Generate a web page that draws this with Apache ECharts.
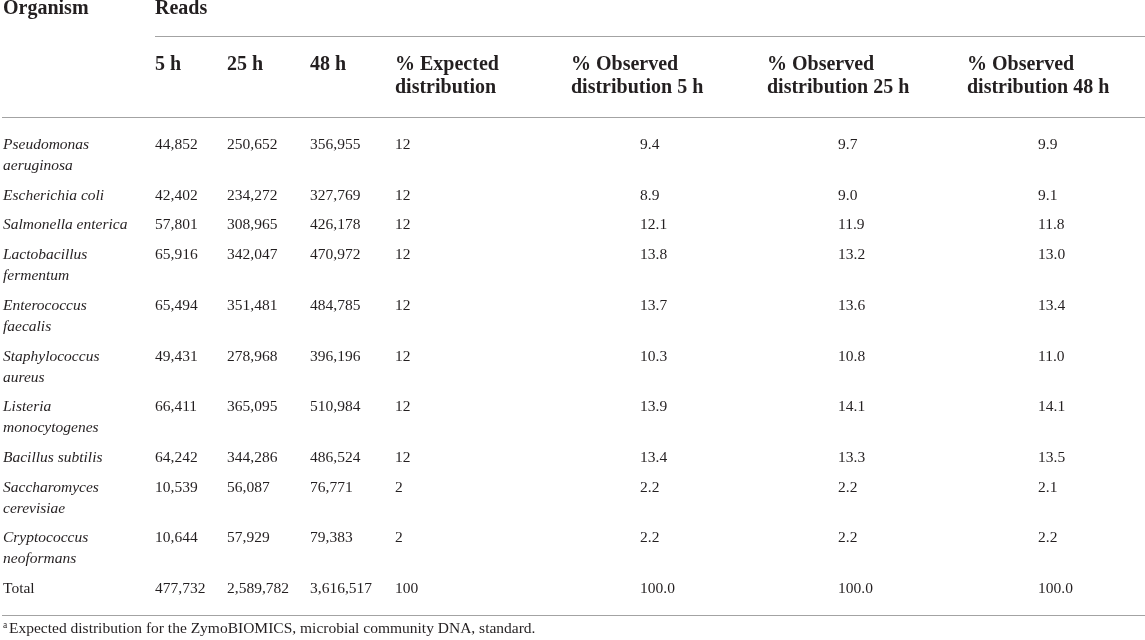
<!DOCTYPE html>
<html>
<head>
<meta charset="utf-8">
<script src="https://cdn.jsdelivr.net/npm/echarts@6/dist/echarts.min.js"></script>
<style>
  html, body { margin: 0; padding: 0; background: #fff; }
  #chart { width: 1145px; height: 640px; }
</style>
</head>
<body>
<div id="chart"></div>
<script>
// table values
const organisms = [
  'Pseudomonas\naeruginosa', 'Escherichia coli', 'Salmonella enterica',
  'Lactobacillus\nfermentum', 'Enterococcus\nfaecalis', 'Staphylococcus\naureus',
  'Listeria\nmonocytogenes', 'Bacillus subtilis', 'Saccharomyces\ncerevisiae',
  'Cryptococcus\nneoformans'
];
const reads5h = [44852, 42402, 57801, 65916, 65494, 49431, 66411, 64242, 10539, 10644];
const reads25h = [250652, 234272, 308965, 342047, 351481, 278968, 365095, 344286, 56087, 57929];
const reads48h = [356955, 327769, 426178, 470972, 484785, 396196, 510984, 486524, 76771, 79383];
const expected = [12, 12, 12, 12, 12, 12, 12, 12, 2, 2];
const observed5h = [9.4, 8.9, 12.1, 13.8, 13.7, 10.3, 13.9, 13.4, 2.2, 2.2];
const observed25h = [9.7, 9.0, 11.9, 13.2, 13.6, 10.8, 14.1, 13.3, 2.2, 2.2];
const observed48h = [9.9, 9.1, 11.8, 13.0, 13.4, 11.0, 14.1, 13.5, 2.1, 2.2];
const totalLabel = 'Total';
const totalExpected = 100;
const totalObserved = [100.0, 100.0, 100.0];
const groupHeaders = ['Organism', 'Reads'];
const colHeaders = ['5 h', '25 h', '48 h', '% Expected\ndistribution',
  '% Observed\ndistribution 5 h', '% Observed\ndistribution 25 h', '% Observed\ndistribution 48 h'];
const footnote = 'Expected distribution for the ZymoBIOMICS, microbial community DNA, standard.';

// layout (px on a 1145 x 640 value grid)
const colX = [3, 155, 227, 310, 395, 640, 838, 1038];
const headX = [155, 227, 310, 395, 571, 767, 967];
const firstRowY = 145, lineH = 21, rowGap = 8.7;
const FONT = '"Liberation Serif", "Times New Roman", serif';
const ink = '#231f20';
const rule = '#a3a3a3';

const fmt = n => n.toLocaleString('en-US');
const cells = [];
function cell(x, y, text, font, lh) {
  text.split('\n').forEach((t, i) => cells.push({ x: x, y: y + i * lh, text: t, font: font }));
}
const hFont = 'bold 20px ' + FONT;
const bFont = '15.5px ' + FONT;
const iFont = 'italic 15.5px ' + FONT;

cell(3, 9, groupHeaders[0], hFont, 23);
cell(155, 9, groupHeaders[1], hFont, 23);
colHeaders.forEach((h, i) => cell(headX[i], 65, h, hFont, 23));

let y = firstRowY;
organisms.forEach((name, i) => {
  cell(colX[0], y, name, iFont, lineH);
  cell(colX[1], y, fmt(reads5h[i]), bFont, lineH);
  cell(colX[2], y, fmt(reads25h[i]), bFont, lineH);
  cell(colX[3], y, fmt(reads48h[i]), bFont, lineH);
  cell(colX[4], y, String(expected[i]), bFont, lineH);
  cell(colX[5], y, observed5h[i].toFixed(1), bFont, lineH);
  cell(colX[6], y, observed25h[i].toFixed(1), bFont, lineH);
  cell(colX[7], y, observed48h[i].toFixed(1), bFont, lineH);
  y += name.split('\n').length * lineH + rowGap;
});
const sum = a => a.reduce((s, v) => s + v, 0);
cell(colX[0], y, totalLabel, bFont, lineH);
cell(colX[1], y, fmt(sum(reads5h)), bFont, lineH);
cell(colX[2], y, fmt(sum(reads25h)), bFont, lineH);
cell(colX[3], y, fmt(sum(reads48h)), bFont, lineH);
cell(colX[4], y, String(totalExpected), bFont, lineH);
totalObserved.forEach((v, i) => cell(colX[5 + i], y, v.toFixed(1), bFont, lineH));
const ruleBottomY = y + 26;

cells.push({ x: 3, y: ruleBottomY + 10, text: 'a', font: '9.5px ' + FONT });
cells.push({ x: 9, y: ruleBottomY + 14, text: footnote, font: '15.5px ' + FONT });

const rules = [
  [155, 36, 1145, 36],
  [2, 117, 1145, 117],
  [2, ruleBottomY, 1145, ruleBottomY]
];

const chart = echarts.init(document.getElementById('chart'));
chart.setOption({
  animation: false,
  backgroundColor: '#fff',
  grid: { left: 0, right: 0, top: 0, bottom: 0 },
  xAxis: { type: 'value', min: 0, max: 1145, show: false },
  yAxis: { type: 'value', min: 0, max: 640, inverse: true, show: false },
  series: [
    {
      type: 'custom',
      data: rules.map(r => [r[0], r[1], r[2], r[3]]),
      renderItem: function (params, api) {
        const a = api.coord([api.value(0), api.value(1)]);
        const b = api.coord([api.value(2), api.value(3)]);
        return {
          type: 'line',
          shape: { x1: a[0], y1: Math.round(a[1]) + 0.5, x2: b[0], y2: Math.round(b[1]) + 0.5 },
          style: { stroke: rule, lineWidth: 1.2 }
        };
      }
    },
    {
      type: 'custom',
      data: cells.map(c => [c.x, c.y]),
      renderItem: function (params, api) {
        const c = cells[params.dataIndex];
        const p = api.coord([api.value(0), api.value(1)]);
        return {
          type: 'text',
          style: {
            text: c.text, x: p[0], y: p[1], font: c.font, fill: ink,
            align: 'left', verticalAlign: 'middle'
          }
        };
      }
    }
  ]
});
window.addEventListener('resize', () => chart.resize());
</script>
</body>
</html>
